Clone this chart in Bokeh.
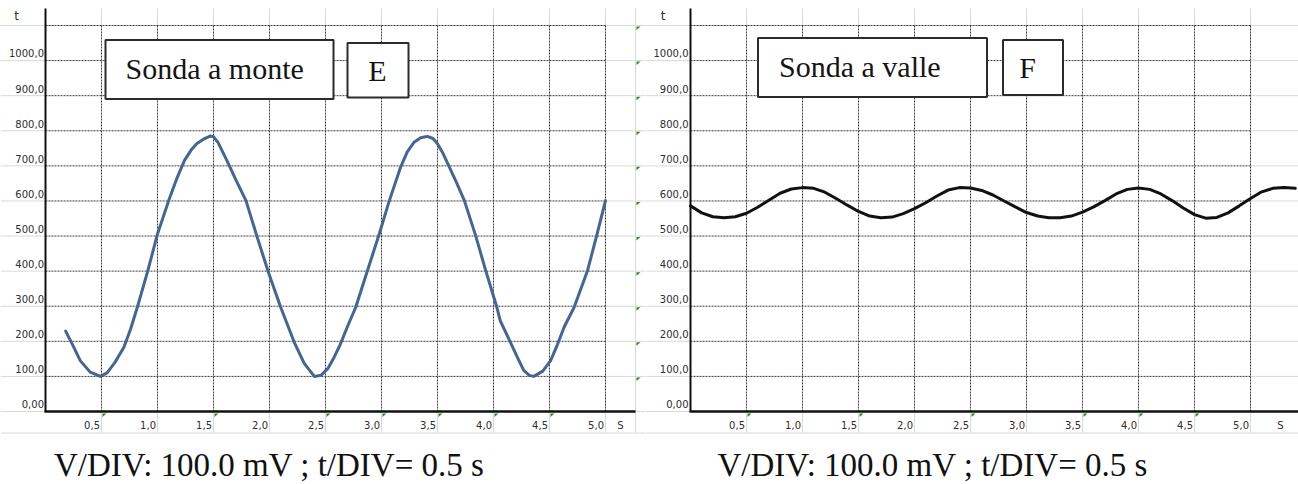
from bokeh.plotting import figure
from bokeh.layouts import row
from bokeh.models import Range1d
from bokeh.core.properties import value
from bokeh.embed import file_html
from bokeh.resources import INLINE

# ---------------- data ----------------
x_ticks = [0.5, 1.0, 1.5, 2.0, 2.5, 3.0, 3.5, 4.0, 4.5, 5.0]
x_tick_labels = ["0,5", "1,0", "1,5", "2,0", "2,5", "3,0", "3,5", "4,0", "4,5", "5,0"]
y_ticks = [0, 100, 200, 300, 400, 500, 600, 700, 800, 900, 1000]
y_tick_labels = ["0,00", "100,0", "200,0", "300,0", "400,0", "500,0", "600,0",
                 "700,0", "800,0", "900,0", "1000,0"]
grid_y = [100, 200, 300, 400, 500, 600, 700, 800, 900, 1000, 1100]
x_unit = "S"
y_unit = "t"

# Sonda a monte (E)
time_e = [0.18, 0.25, 0.31, 0.40, 0.49, 0.55, 0.62, 0.70, 0.76, 0.82, 0.91, 1.00,
          1.10, 1.17, 1.24, 1.30, 1.35, 1.41, 1.47, 1.50, 1.54, 1.62, 1.70, 1.79,
          1.89, 1.99, 2.10, 2.22, 2.31, 2.40, 2.46, 2.52, 2.57, 2.63, 2.70, 2.77,
          2.87, 2.98, 3.07, 3.17, 3.23, 3.29, 3.35, 3.41, 3.46, 3.50, 3.55, 3.60,
          3.67, 3.74, 3.84, 3.93, 4.03, 4.06, 4.15, 4.22, 4.27, 4.32, 4.36, 4.44,
          4.51, 4.57, 4.63, 4.72, 4.84, 4.92, 5.00]
volt_e = [229, 185, 145, 112, 100, 110, 140, 183, 235, 297, 397, 506,
          601, 662, 715, 745, 763, 776, 785, 783, 767, 715, 660, 601,
          497, 397, 297, 198, 137, 100, 103, 122, 150, 190, 245, 297,
          397, 506, 601, 696, 740, 767, 780, 784, 778, 763, 735, 701,
          652, 601, 502, 402, 297, 259, 198, 150, 117, 103, 100, 115,
          145, 190, 240, 297, 402, 500, 601]

# Sonda a valle (F)
time_f = [0.0, 0.1, 0.2, 0.3, 0.4, 0.5, 0.6, 0.7, 0.8, 0.9, 1.0, 1.1, 1.2, 1.3,
          1.4, 1.5, 1.6, 1.7, 1.8, 1.9, 2.0, 2.1, 2.2, 2.3, 2.4, 2.5, 2.6, 2.7,
          2.8, 2.9, 3.0, 3.1, 3.2, 3.3, 3.4, 3.5, 3.6, 3.7, 3.8, 3.9, 4.0, 4.1,
          4.2, 4.3, 4.4, 4.5, 4.6, 4.7, 4.8, 4.9, 5.0, 5.1, 5.2, 5.3, 5.4]
volt_f = [586, 566, 555, 552, 555, 565, 582, 602, 622, 634, 638, 636, 625, 607,
          588, 570, 557, 552, 554, 564, 578, 595, 614, 631, 638, 637, 630, 617,
          600, 583, 567, 557, 552, 552, 557, 568, 583, 601, 620, 633, 637, 633,
          620, 601, 580, 561, 551, 553, 566, 586, 607, 626, 636, 638, 636]

green_x_e = [0.5, 1.5, 2.5, 3.0, 3.5, 4.0, 4.5]
green_x_f = [0.5, 1.5, 2.5, 3.5, 4.0, 4.5]
green_y_col = [100, 200, 300, 400, 500, 600, 700, 800, 900, 1000, 1100]

title_e = "Sonda a monte"
tag_e = "E"
title_f = "Sonda a valle"
tag_f = "F"
caption = "V/DIV: 100.0 mV ; t/DIV=  0.5 s"

# ---------------- layout constants ----------------
PX_X = 112.0                 # px per second
PX_Y = (411.0 - 25.0) / 1100  # px per unit
H = 484
PAGE_TOP = 0
ZERO_Y = 411.0               # page y of value 0
LIGHT = "#d9d9d9"
DASH = "#3a3a3a"
LBL = "#2e2e2e"
SANS = value("DejaVu Sans")
SERIF = value("Liberation Serif")
FIX = 0.36                   # baseline compensation (fraction of font size)


def make_panel(width, page_left, origin_x, t, v, line_color, title, tag,
               title_box, tag_box, title_pos, tag_pos, caption_x, s_x, t_x,
               cell_edge, green_bottom, green_col_x, ylab_off):
    vx = lambda px: (px - origin_x) / PX_X
    vy = lambda py: (ZERO_Y - py) / PX_Y
    xs, xe = vx(page_left), vx(page_left + width)
    ye = vy(PAGE_TOP)
    ys = vy(PAGE_TOP + H)
    p = figure(width=width, height=H, x_range=Range1d(xs, xe), y_range=Range1d(ys, ye),
               x_axis_type=None, y_axis_type=None, toolbar_location=None,
               output_backend="svg", min_border=0, outline_line_color=None,
               background_fill_color="white", border_fill_color="white")

    bottom_cell = vy(432.5)
    top_cell = vy(8)
    # spreadsheet cell lines
    hy = [0] + grid_y + [bottom_cell]
    p.segment(x0=[xs] * len(hy), x1=[xe] * len(hy), y0=hy, y1=hy,
              line_color=LIGHT, line_width=1)
    vxs = list(x_ticks) + ([cell_edge] if cell_edge is not None else [])
    p.segment(x0=vxs, x1=vxs, y0=[bottom_cell] * len(vxs), y1=[top_cell] * len(vxs),
              line_color=LIGHT, line_width=1)
    # chart plot area
    p.quad(left=[0], right=[x_ticks[-1]], bottom=[0], top=[grid_y[-1]],
           fill_color="white", line_color=None)
    # dashed gridlines
    p.segment(x0=[0] * len(grid_y), x1=[x_ticks[-1]] * len(grid_y), y0=grid_y, y1=grid_y,
              line_color=DASH, line_width=1, line_dash="2 1")
    p.segment(x0=x_ticks, x1=x_ticks, y0=[0] * len(x_ticks), y1=[grid_y[-1]] * len(x_ticks),
              line_color=DASH, line_width=1, line_dash="2 1")

    # boxes
    p.quad(left=[vx(title_box[0]), vx(tag_box[0])], right=[vx(title_box[1]), vx(tag_box[1])],
           top=[vy(title_box[2]), vy(tag_box[2])], bottom=[vy(title_box[3]), vy(tag_box[3])],
           fill_color="white", line_color="#2b2b2b", line_width=2)
    p.text(x=[vx(title_pos[0])], y=[vy(title_pos[1])], text=[title], text_font=SERIF,
           text_font_size="30px", text_color="#141414", text_align="left",
           text_baseline="alphabetic", y_offset=-FIX * 30)
    p.text(x=[vx(tag_pos[0])], y=[vy(tag_pos[1])], text=[tag], text_font=SERIF,
           text_font_size="30px", text_color="#141414", text_align="center",
           text_baseline="alphabetic", y_offset=-FIX * 30)

    # curve
    p.line(t, v, line_color=line_color, line_width=3, line_join="round", line_cap="round")

    # axes
    p.segment(x0=[0], x1=[0], y0=[0], y1=[top_cell], line_color="#111111", line_width=2)
    p.segment(x0=[-1 / PX_X], x1=[cell_edge if cell_edge is not None else xe],
              y0=[0], y1=[0], line_color="#111111", line_width=2.5)

    # green indicators
    gx, gy = [], []
    for a in green_bottom:
        gx.append([a + 1 / PX_X, a + 5 / PX_X, a + 1 / PX_X])
        gy.append([-2 / PX_Y, -2 / PX_Y, -5.5 / PX_Y])
    if green_col_x is not None:
        for b in green_y_col:
            gx.append([green_col_x + 1 / PX_X, green_col_x + 5 / PX_X, green_col_x + 1 / PX_X])
            gy.append([b - 1 / PX_Y, b - 1 / PX_Y, b - 4.5 / PX_Y])
    p.patches(xs=gx, ys=gy, fill_color="#2a8a2a", line_color=None)

    # tick labels
    p.text(x=x_ticks, y=[0] * len(x_ticks), text=x_tick_labels, x_offset=-1.5,
           y_offset=17.5 - FIX * 10,
           text_align="right", text_baseline="alphabetic", text_font=SANS,
           text_font_size="10px", text_color=LBL)
    p.text(x=[0] * len(y_ticks), y=y_ticks, text=y_tick_labels, x_offset=ylab_off,
           y_offset=-3.5 - FIX * 10,
           text_align="right", text_baseline="alphabetic", text_font=SANS,
           text_font_size="10px", text_color=LBL)
    p.text(x=[vx(s_x)], y=[0], text=[x_unit], y_offset=17.5 - FIX * 10, text_align="center",
           text_baseline="alphabetic", text_font=SANS, text_font_size="10px", text_color=LBL)
    p.text(x=[vx(t_x)], y=[vy(20)], text=[y_unit], y_offset=-FIX * 12, text_align="center",
           text_baseline="alphabetic", text_font=SANS, text_font_size="12px", text_color=LBL)

    # caption
    p.text(x=[vx(caption_x)], y=[vy(476)], text=[caption], text_font=SERIF,
           text_font_size="33px", text_color="#111111", text_align="left",
           text_baseline="alphabetic", y_offset=-FIX * 33)
    return p


p1 = make_panel(width=645, page_left=0, origin_x=45, t=time_e, v=volt_e,
                line_color="#44668f", title=title_e, tag=tag_e,
                title_box=(105, 333, 39.5, 98.5), tag_box=(347, 408, 42.5, 97),
                title_pos=(125, 78.5), tag_pos=(377, 80.5), caption_x=53.5,
                s_x=620, t_x=16, cell_edge=(635 - 45) / PX_X,
                green_bottom=green_x_e, green_col_x=(635 - 45) / PX_X, ylab_off=-1.5)
p2 = make_panel(width=653, page_left=645, origin_x=690, t=time_f, v=volt_f,
                line_color="#111111", title=title_f, tag=tag_f,
                title_box=(757.5, 986.5, 37.5, 96.5), tag_box=(1002.5, 1062.5, 39.5, 94.5),
                title_pos=(778.5, 76.5), tag_pos=(1027, 77.5), caption_x=717,
                s_x=1280, t_x=662.5, cell_edge=None,
                green_bottom=green_x_f, green_col_x=None, ylab_off=-2)

layout = row(p1, p2)
open("out.html", "w").write(file_html(layout, INLINE))
